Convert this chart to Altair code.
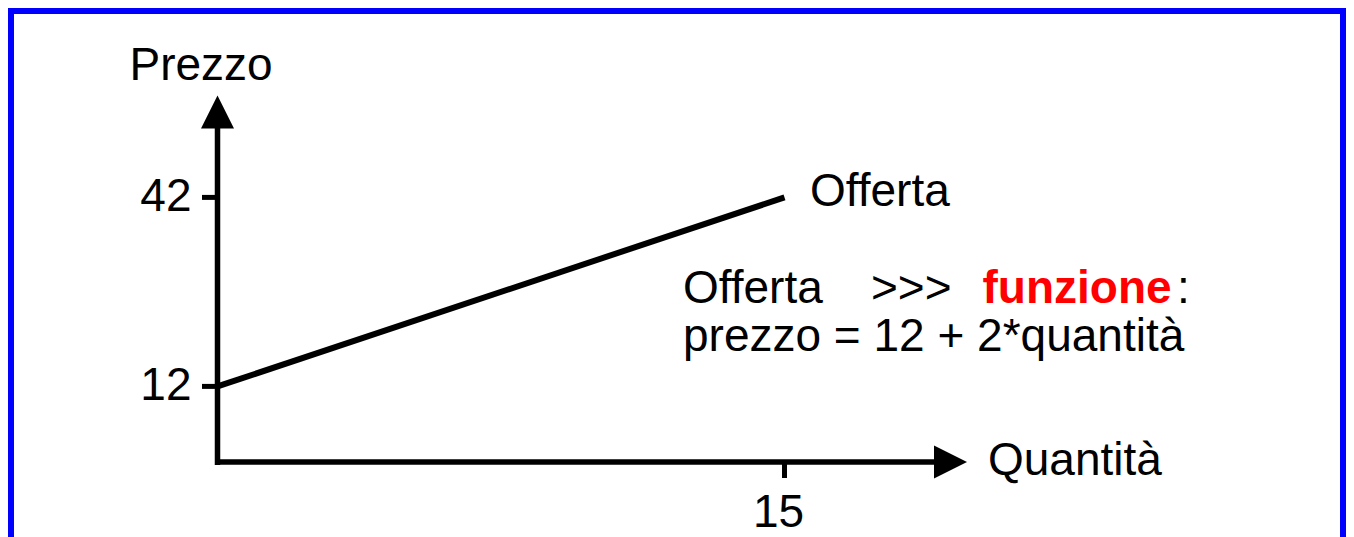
import altair as alt
import pandas as pd

# ---- data ----
quantita = [0, 15]
prezzo = [12, 42]
y_tick_values = [12, 42]
y_tick_labels = ["12", "42"]
x_tick_values = [15]
x_tick_labels = ["15"]
y_axis_title = "Prezzo"
x_axis_title = "Quantità"
series_name = "Offerta"
note_words = ["Offerta", ">>>", "funzione", ":"]
note_line2 = "prezzo = 12 + 2*quantità"

# ---- layout ----
W, H = 1338, 529
PX_X = 37.8      # pixels per unit of quantity
X0 = 209.5       # chart pixel of quantity 0
PX_Y = 6.3       # pixels per unit of price
Y0 = 454.0       # chart pixel of price 0
FONT = "Liberation Sans"
FS = 46


def px(page_x):
    return (page_x - 8 - X0) / PX_X


def py(page_y):
    return (Y0 - (page_y - 8)) / PX_Y


xs = alt.Scale(domain=[-X0 / PX_X, (W - X0) / PX_X], nice=False, zero=False)
ys = alt.Scale(domain=[-(H - Y0) / PX_Y, Y0 / PX_Y], nice=False, zero=False)


def X(f):
    return alt.X(f, type="quantitative", scale=xs, axis=None)


def Y(f):
    return alt.Y(f, type="quantitative", scale=ys, axis=None)


def X2(f):
    return alt.X2(f)


def Y2(f):
    return alt.Y2(f)


# frame
frame = alt.Chart(pd.DataFrame({"a": [0]})).mark_rect(
    fill="white", stroke="#0000FF", strokeWidth=6
).encode(x=alt.value(3), x2=alt.value(1335), y=alt.value(3), y2=alt.value(700))

# axes
yaxis = alt.Chart(pd.DataFrame({"x": [0], "y": [py(465)], "y2": [py(120)]})).mark_rule(
    color="black", strokeWidth=5.5
).encode(x=X("x"), y=Y("y"), y2=Y2("y2"))

xaxis = alt.Chart(pd.DataFrame({"y": [0], "x": [px(215)], "x2": [px(937)]})).mark_rule(
    color="black", strokeWidth=5.5
).encode(y=Y("y"), x=X("x"), x2=X2("x2"))

up_arrow = alt.Chart(pd.DataFrame({"x": [0], "y": [py(112)]})).mark_point(
    shape="M0,-1L1,1L-1,1Z", filled=True, size=1089, color="black", opacity=1, strokeWidth=0
).encode(x=X("x"), y=Y("y"))

right_arrow = alt.Chart(pd.DataFrame({"x": [px(950.5)], "y": [0]})).mark_point(
    shape="M1,0L-1,-1L-1,1Z", filled=True, size=1089, color="black", opacity=1, strokeWidth=0
).encode(x=X("x"), y=Y("y"))

# ticks
ytick_df = pd.DataFrame({"y": y_tick_values, "label": y_tick_labels})
ytick_df["x"] = px(202)
ytick_df["x2"] = 0.0
yticks = alt.Chart(ytick_df).mark_rule(color="black", strokeWidth=5).encode(
    y=Y("y"), x=X("x"), x2=X2("x2")
)
ylabels = alt.Chart(ytick_df.assign(lx=px(191.5))).mark_text(
    align="right", baseline="alphabetic", dy=13.5, font=FONT, fontSize=FS, color="black"
).encode(x=X("lx"), y=Y("y"), text="label:N")

xtick_df = pd.DataFrame({"x": x_tick_values, "label": x_tick_labels})
xtick_df["y"] = 0.0
xtick_df["y2"] = py(478)
xticks = alt.Chart(xtick_df).mark_rule(color="black", strokeWidth=5).encode(
    x=X("x"), y=Y("y"), y2=Y2("y2")
)
xlabels = alt.Chart(xtick_df).mark_text(
    align="center", baseline="alphabetic", dx=-6, dy=(527 - 8) - Y0, font=FONT, fontSize=FS, color="black"
).encode(x=X("x"), y=Y("y"), text="label:N")

# supply line
line = alt.Chart(pd.DataFrame({"q": quantita, "p": prezzo})).mark_line(
    color="black", strokeWidth=6
).encode(x=X("q"), y=Y("p"))

# texts
def txt(s, x, y, **kw):
    d = pd.DataFrame({"t": [s], "x": [x], "y": [y]})
    opts = dict(align="left", baseline="alphabetic", font=FONT, fontSize=FS, color="black")
    opts.update(kw)
    return alt.Chart(d).mark_text(**opts).encode(x=X("x"), y=Y("y"), text="t:N")


t_prezzo = txt(y_axis_title, px(129.5), py(80))
t_quant = txt(x_axis_title, px(988), py(475))
t_series = txt(series_name, px(810), py(206))
t_n1 = txt(note_words[0], px(683), py(303))
t_n2 = txt(note_words[1], px(871), py(303))
t_n3 = txt(note_words[2], px(982.5), py(303), fontWeight="bold", color="#FF0000")
t_n4 = txt(note_words[3], px(1177), py(303))
t_l2 = txt(note_line2, px(683), py(351))

chart = alt.layer(
    frame, yaxis, xaxis, up_arrow, right_arrow, yticks, ylabels, xticks, xlabels, line,
    t_prezzo, t_quant, t_series, t_n1, t_n2, t_n3, t_n4, t_l2,
).properties(
    width=W, height=H, padding=0, autosize=alt.AutoSizeParams(type="none"), background="white"
).configure_view(stroke=None)

chart.save("out.html", embed_options={"renderer": "svg", "actions": False})
